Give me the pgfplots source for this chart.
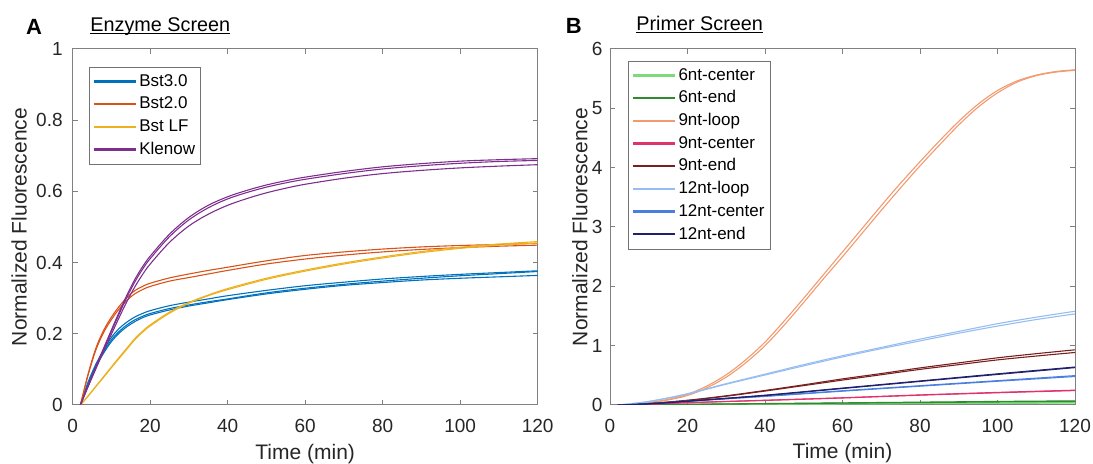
\documentclass[border=0pt]{standalone}
\usepackage{fontspec}
\setmainfont{Liberation Sans}
\usepackage{pgfplots}
\pgfplotsset{compat=1.18}

% MATLAB default colours (panel A)
\definecolor{mBlue}{rgb}{0,0.447,0.741}
\definecolor{mOrange}{rgb}{0.85,0.325,0.098}
\definecolor{mYellow}{rgb}{0.929,0.694,0.125}
\definecolor{mPurple}{rgb}{0.494,0.184,0.556}
% panel B
\definecolor{cLtGreen}{HTML}{7ADB7A}
\definecolor{cGreen}{HTML}{2E8B2E}
\definecolor{cSalmon}{HTML}{F29A70}
\definecolor{cPink}{HTML}{E0336A}
\definecolor{cMaroon}{HTML}{7A1F1F}
\definecolor{cLtBlue}{HTML}{96BDF2}
\definecolor{cBlue}{HTML}{4A7FE0}
\definecolor{cNavy}{HTML}{20206E}

\newcommand\ul[1]{\setbox0\hbox{#1}\rlap{\rule[-1.1pt]{\wd0}{0.5pt}}\box0}

\pgfplotsset{
  matlab/.style={
    scale only axis, width=232.5pt, height=178pt, anchor=south west,
    xmin=0, xmax=120, xtick={0,20,...,120},
    axis line style={black!50, line width=0.5pt},
    major tick style={black!50, line width=0.5pt},
    major tick length=2.5pt,
    tick align=inside,
    tick label style={font=\fontsize{9.5}{11}\selectfont, text=black!85},
    /pgf/number format/assume math mode=true,
    xticklabel style={anchor=base, yshift=-14pt},
    xlabel={Time (min)}, ylabel={Normalized Fluorescence},
    label style={font=\fontsize{10.5}{12}\selectfont, text=black!85},
    xlabel style={at={(axis description cs:0.5,-0.1517)}, anchor=base},
    legend cell align=left,
    legend image code/.code={\draw[#1, line width=1.15pt] (0pt,0.25pt) -- (21pt,0.25pt);},
    legend style={font=\fontsize{8.5}{10}\selectfont, draw=black!55,
      line width=0.5pt, inner xsep=1.5pt, inner ysep=1.5pt, anchor=north west,
      nodes={inner sep=1.3pt, text height=6.5pt, text depth=2.25pt}},
    every axis plot/.append style={line width=0.55pt, smooth, tension=0.55},
  }
}

\begin{document}
\begin{tikzpicture}
\useasboundingbox (0,0) rectangle (546.5pt,232pt);

\node[anchor=base, font=\fontsize{11}{13}\selectfont\bfseries, inner sep=0] at (17pt,214.5pt) {A};
\node[anchor=base west, font=\fontsize{9.9}{12}\selectfont, inner sep=0] at (45pt,216.2pt) {\ul{Enzyme Screen}};
\node[anchor=base, font=\fontsize{11}{13}\selectfont\bfseries, inner sep=0] at (286.9pt,215.3pt) {B};
\node[anchor=base west, font=\fontsize{9.9}{12}\selectfont, inner sep=0] at (318pt,216.7pt) {\ul{Primer Screen}};

% ---------------- A: Enzyme Screen ----------------
\begin{axis}[matlab, at={(36.35pt,29.5pt)},
  ymin=0, ymax=1, ytick={0,0.2,...,1},
  yticklabel style={xshift=-1.5pt},
  ylabel style={at={(axis description cs:-0.115,0.5)}, anchor=center},
  legend style={at={(0.035,0.949)}}]
% Bst3.0
\addplot[draw=mBlue] coordinates {(2,0)(4,0.065)(6,0.115)(8,0.155)(10,0.19)(12,0.215)(14,0.233)(16,0.247)(18,0.257)(20,0.265)(25,0.279)(30,0.289)(35,0.298)(40,0.307)(50,0.322)(60,0.335)(70,0.345)(80,0.354)(90,0.361)(100,0.367)(110,0.372)(120,0.377)};
\addlegendentry{Bst3.0}
\addplot[draw=mBlue, forget plot] coordinates {(2,0)(4,0.062)(6,0.11)(8,0.15)(10,0.183)(12,0.207)(14,0.225)(16,0.239)(18,0.249)(20,0.257)(25,0.271)(30,0.281)(35,0.29)(40,0.298)(50,0.315)(60,0.328)(70,0.339)(80,0.348)(90,0.356)(100,0.363)(110,0.369)(120,0.375)};
\addplot[draw=mBlue, forget plot] coordinates {(2,0)(4,0.06)(6,0.107)(8,0.146)(10,0.178)(12,0.202)(14,0.22)(16,0.234)(18,0.245)(20,0.253)(25,0.267)(30,0.278)(35,0.287)(40,0.296)(50,0.312)(60,0.325)(70,0.336)(80,0.344)(90,0.351)(100,0.356)(110,0.36)(120,0.364)};
% Bst2.0
\addplot[draw=mOrange] coordinates {(2,0)(4,0.088)(6,0.16)(8,0.21)(10,0.247)(12,0.277)(14,0.302)(16,0.321)(18,0.333)(20,0.342)(25,0.357)(30,0.368)(35,0.378)(40,0.387)(50,0.405)(60,0.42)(70,0.43)(80,0.438)(90,0.444)(100,0.448)(110,0.451)(120,0.454)};
\addlegendentry{Bst2.0}
\addplot[draw=mOrange, forget plot] coordinates {(2,0)(4,0.085)(6,0.155)(8,0.204)(10,0.24)(12,0.27)(14,0.294)(16,0.312)(18,0.324)(20,0.333)(25,0.348)(30,0.358)(35,0.368)(40,0.378)(50,0.396)(60,0.41)(70,0.421)(80,0.43)(90,0.437)(100,0.442)(110,0.446)(120,0.449)};
% Bst LF
\addplot[draw=mYellow] coordinates {(2,0)(4,0.026)(6,0.053)(8,0.08)(10,0.107)(12,0.134)(14,0.16)(16,0.186)(18,0.207)(20,0.225)(25,0.261)(30,0.288)(35,0.309)(40,0.327)(50,0.356)(60,0.379)(70,0.399)(80,0.416)(90,0.431)(100,0.443)(110,0.452)(120,0.459)};
\addlegendentry{Bst LF}
\addplot[draw=mYellow, forget plot] coordinates {(2,0)(4,0.025)(6,0.052)(8,0.078)(10,0.105)(12,0.131)(14,0.157)(16,0.183)(18,0.204)(20,0.222)(25,0.258)(30,0.286)(35,0.307)(40,0.324)(50,0.353)(60,0.376)(70,0.396)(80,0.413)(90,0.428)(100,0.44)(110,0.449)(120,0.455)};
% Klenow
\addplot[draw=mPurple] coordinates {(2,0)(4,0.055)(6,0.108)(8,0.16)(10,0.211)(12,0.261)(14,0.309)(16,0.352)(18,0.388)(20,0.418)(25,0.48)(30,0.527)(35,0.561)(40,0.585)(45,0.603)(50,0.618)(55,0.63)(60,0.64)(70,0.656)(80,0.669)(90,0.678)(100,0.685)(110,0.689)(120,0.692)};
\addlegendentry{Klenow}
\addplot[draw=mPurple, forget plot] coordinates {(2,0)(4,0.054)(6,0.106)(8,0.157)(10,0.207)(12,0.256)(14,0.303)(16,0.345)(18,0.381)(20,0.411)(25,0.473)(30,0.52)(35,0.554)(40,0.579)(45,0.597)(50,0.612)(55,0.624)(60,0.634)(70,0.65)(80,0.663)(90,0.672)(100,0.679)(110,0.684)(120,0.687)};
\addplot[draw=mPurple, forget plot] coordinates {(2,0)(4,0.052)(6,0.102)(8,0.152)(10,0.199)(12,0.246)(14,0.291)(16,0.331)(18,0.366)(20,0.396)(25,0.457)(30,0.503)(35,0.536)(40,0.561)(45,0.58)(50,0.596)(55,0.609)(60,0.62)(70,0.637)(80,0.65)(90,0.659)(100,0.666)(110,0.671)(120,0.675)};
\end{axis}

% ---------------- B: Primer Screen ----------------
\begin{axis}[matlab, at={(305pt,29.5pt)},
  ymin=0, ymax=6, ytick={0,1,...,6},
  yticklabel style={xshift=-0.2pt},
  ylabel style={at={(axis description cs:-0.065,0.5)}, anchor=center},
  legend style={at={(0.039,0.966)}}]
% 6nt-center
\addplot[draw=cLtGreen] coordinates {(2,0)(20,0.008)(40,0.015)(60,0.022)(80,0.028)(100,0.034)(120,0.04)};
\addlegendentry{6nt-center}
\addplot[draw=cLtGreen, forget plot] coordinates {(2,0)(20,0.006)(40,0.012)(60,0.018)(80,0.023)(100,0.028)(120,0.032)};
% 6nt-end
\addplot[draw=cGreen] coordinates {(2,0)(20,0.012)(40,0.024)(60,0.036)(80,0.048)(100,0.06)(120,0.07)};
\addlegendentry{6nt-end}
\addplot[draw=cGreen, forget plot] coordinates {(2,0)(20,0.01)(40,0.02)(60,0.031)(80,0.041)(100,0.051)(120,0.06)};
% 9nt-loop
\addplot[draw=cSalmon] coordinates {(2,0)(5,0.008)(10,0.04)(15,0.095)(20,0.18)(25,0.32)(30,0.51)(35,0.76)(40,1.06)(45,1.42)(50,1.8)(55,2.19)(60,2.58)(65,2.97)(70,3.36)(75,3.74)(80,4.1)(85,4.45)(90,4.78)(95,5.07)(100,5.3)(105,5.46)(110,5.56)(115,5.62)(120,5.65)};
\addlegendentry{9nt-loop}
\addplot[draw=cSalmon, forget plot] coordinates {(2,0)(5,0.007)(10,0.035)(15,0.085)(20,0.16)(25,0.29)(30,0.47)(35,0.71)(40,1.0)(45,1.35)(50,1.73)(55,2.12)(60,2.5)(65,2.89)(70,3.28)(75,3.66)(80,4.03)(85,4.38)(90,4.72)(95,5.02)(100,5.26)(105,5.44)(110,5.55)(115,5.61)(120,5.64)};
% 9nt-center
\addplot[draw=cPink] coordinates {(2,0)(10,0.015)(20,0.04)(40,0.08)(60,0.122)(80,0.17)(100,0.212)(120,0.25)};
\addlegendentry{9nt-center}
\addplot[draw=cPink, forget plot] coordinates {(2,0)(10,0.014)(20,0.038)(40,0.077)(60,0.118)(80,0.165)(100,0.206)(120,0.243)};
% 9nt-end
\addplot[draw=cMaroon] coordinates {(2,0)(10,0.025)(20,0.08)(30,0.155)(40,0.245)(50,0.34)(60,0.44)(70,0.53)(80,0.625)(90,0.71)(100,0.795)(110,0.865)(120,0.93)};
\addlegendentry{9nt-end}
\addplot[draw=cMaroon, forget plot] coordinates {(2,0)(10,0.023)(20,0.075)(30,0.148)(40,0.235)(50,0.327)(60,0.42)(70,0.51)(80,0.6)(90,0.68)(100,0.76)(110,0.825)(120,0.885)};
% 12nt-loop
\addplot[draw=cLtBlue] coordinates {(2,0)(10,0.06)(20,0.19)(30,0.36)(40,0.52)(50,0.68)(60,0.83)(70,0.97)(80,1.11)(90,1.24)(100,1.37)(110,1.48)(120,1.58)};
\addlegendentry{12nt-loop}
\addplot[draw=cLtBlue, forget plot] coordinates {(2,0)(10,0.058)(20,0.185)(30,0.35)(40,0.505)(50,0.66)(60,0.81)(70,0.95)(80,1.08)(90,1.21)(100,1.33)(110,1.44)(120,1.535)};
% 12nt-center
\addplot[draw=cBlue] coordinates {(2,0)(10,0.02)(20,0.065)(40,0.15)(60,0.24)(80,0.325)(100,0.41)(120,0.495)};
\addlegendentry{12nt-center}
\addplot[draw=cBlue, forget plot] coordinates {(2,0)(10,0.019)(20,0.062)(40,0.145)(60,0.233)(80,0.317)(100,0.4)(120,0.48)};
% 12nt-end
\addplot[draw=cNavy] coordinates {(2,0)(10,0.02)(20,0.065)(40,0.165)(60,0.285)(80,0.405)(100,0.525)(120,0.64)};
\addlegendentry{12nt-end}
\addplot[draw=cNavy, forget plot] coordinates {(2,0)(10,0.019)(20,0.063)(40,0.16)(60,0.278)(80,0.397)(100,0.515)(120,0.63)};
\end{axis}
\end{tikzpicture}
\end{document}
